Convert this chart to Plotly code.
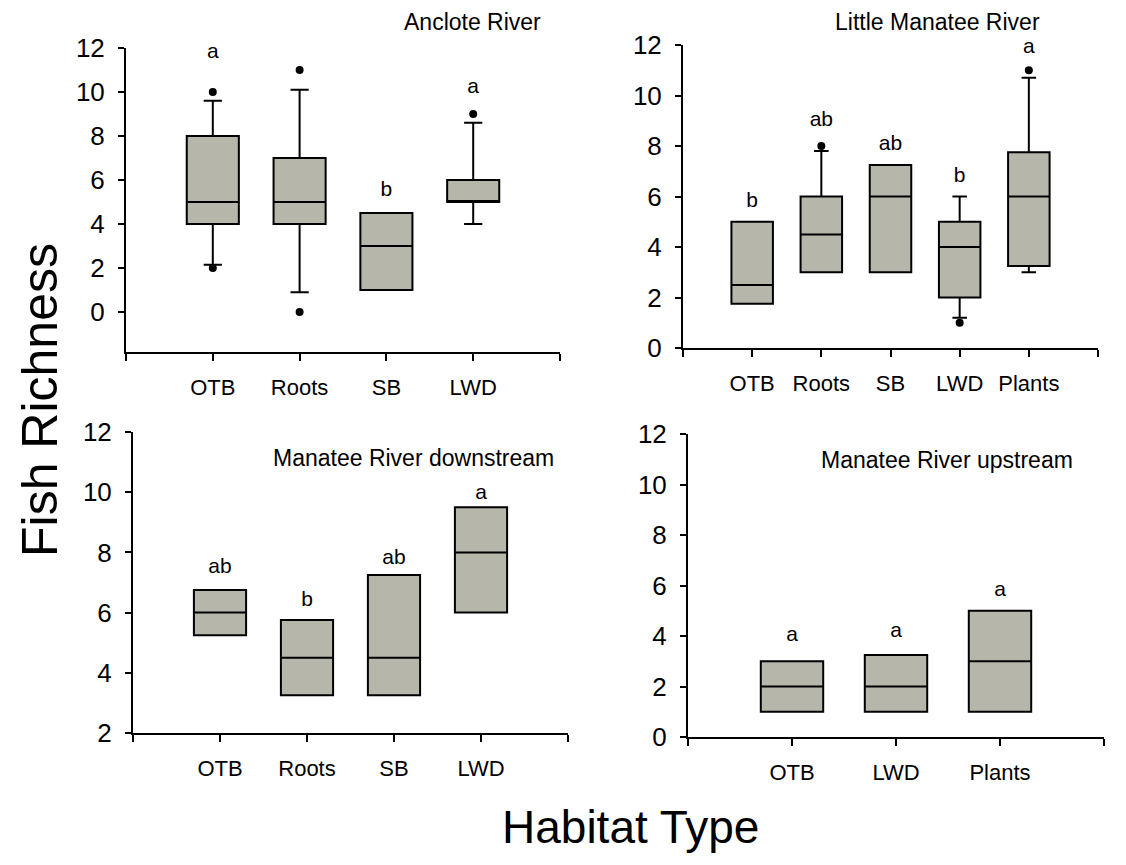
import plotly.graph_objects as go

# ---------------- data ----------------
anclote_cats = ["OTB", "Roots", "SB", "LWD"]
anclote_q1 = [4, 4, 1, 5]
anclote_med = [5, 5, 3, 5]
anclote_q3 = [8, 7, 4.5, 6]
anclote_lo = [2.15, 0.9, 1, 4]
anclote_hi = [9.6, 10.1, 4.5, 8.6]
anclote_out_cat = ["OTB", "OTB", "Roots", "Roots", "LWD"]
anclote_out_val = [10, 2, 11, 0, 9]
anclote_letters = ["a", "a", "b", "a"]
anclote_letter_y = [11.8, 12.1, 5.5, 10.2]

little_cats = ["OTB", "Roots", "SB", "LWD", "Plants"]
little_q1 = [1.75, 3, 3, 2, 3.25]
little_med = [2.5, 4.5, 6, 4, 6]
little_q3 = [5, 6, 7.25, 5, 7.75]
little_lo = [1.75, 3, 3, 1.2, 3]
little_hi = [5, 7.8, 7.25, 6, 10.7]
little_out_cat = ["Roots", "LWD", "Plants"]
little_out_val = [8, 1, 11]
little_letters = ["b", "ab", "ab", "b", "a"]
little_letter_y = [5.8, 9.0, 8.05, 6.8, 11.9]

down_cats = ["OTB", "Roots", "SB", "LWD"]
down_q1 = [5.25, 3.25, 3.25, 6]
down_med = [6, 4.5, 4.5, 8]
down_q3 = [6.75, 5.75, 7.25, 9.5]
down_lo = [5.25, 3.25, 3.25, 6]
down_hi = [6.75, 5.75, 7.25, 9.5]
down_out_cat = []
down_out_val = []
down_letters = ["ab", "b", "ab", "a"]
down_letter_y = [7.5, 6.4, 7.8, 9.95]

up_cats = ["OTB", "LWD", "Plants"]
up_q1 = [1, 1, 1]
up_med = [2, 2, 3]
up_q3 = [3, 3.25, 5]
up_lo = [1, 1, 1]
up_hi = [3, 3.25, 5]
up_out_cat = []
up_out_val = []
up_letters = ["a", "a", "a"]
up_letter_y = [4.0, 4.15, 5.8]

y_ticks_a = [0, 2, 4, 6, 8, 10, 12]
y_ticks_c = [2, 4, 6, 8, 10, 12]

titles = ["Anclote River", "Little Manatee River",
          "Manatee River downstream", "Manatee River upstream"]

# ---------------- layout helpers ----------------
PAGE_MARGIN = 8          # default body margin of the html page
W, H = 1126 - 2 * PAGE_MARGIN, 865 - 2 * PAGE_MARGIN
FONT = "Liberation Sans, Arial, sans-serif"
BOX_FILL = "#b6b6aa"


def px_x(x):
    return (x - PAGE_MARGIN) / W


def px_y(y):
    return 1 - (y - PAGE_MARGIN) / H


panels = [
    dict(cats=anclote_cats, q1=anclote_q1, med=anclote_med, q3=anclote_q3,
         lo=anclote_lo, hi=anclote_hi, oc=anclote_out_cat, ov=anclote_out_val,
         let=anclote_letters, ly=anclote_letter_y,
         xdom=(126, 560), ydom=(352, 48), yrange=(-1.82, 12), yticks=y_ticks_a,
         title=titles[0], tpos=(472, 22)),
    dict(cats=little_cats, q1=little_q1, med=little_med, q3=little_q3,
         lo=little_lo, hi=little_hi, oc=little_out_cat, ov=little_out_val,
         let=little_letters, ly=little_letter_y,
         xdom=(683, 1098), ydom=(348, 45), yrange=(0, 12), yticks=y_ticks_a,
         title=titles[1], tpos=(937, 22)),
    dict(cats=down_cats, q1=down_q1, med=down_med, q3=down_q3,
         lo=down_lo, hi=down_hi, oc=down_out_cat, ov=down_out_val,
         let=down_letters, ly=down_letter_y,
         xdom=(133, 568), ydom=(733, 432), yrange=(2, 12), yticks=y_ticks_c,
         title=titles[2], tpos=(413, 458)),
    dict(cats=up_cats, q1=up_q1, med=up_med, q3=up_q3,
         lo=up_lo, hi=up_hi, oc=up_out_cat, ov=up_out_val,
         let=up_letters, ly=up_letter_y,
         xdom=(688, 1104), ydom=(737, 434), yrange=(0, 12), yticks=y_ticks_a,
         title=titles[3], tpos=(947, 460)),
]

fig = go.Figure()
annotations = []
layout_axes = {}

for i, p in enumerate(panels, start=1):
    xa = "x" if i == 1 else f"x{i}"
    ya = "y" if i == 1 else f"y{i}"
    n = len(p["cats"])
    pos = [k + 1 for k in range(n)]
    fig.add_trace(go.Box(
        x=pos, q1=p["q1"], median=p["med"], q3=p["q3"],
        lowerfence=p["lo"], upperfence=p["hi"],
        width=0.6, whiskerwidth=0.35, boxpoints=False,
        fillcolor=BOX_FILL, line=dict(color="black", width=2),
        xaxis=xa, yaxis=ya, showlegend=False, hoverinfo="skip",
    ))
    if p["oc"]:
        fig.add_trace(go.Scatter(
            x=[p["cats"].index(c) + 1 for c in p["oc"]], y=p["ov"],
            mode="markers", marker=dict(color="black", size=8),
            cliponaxis=False,
            xaxis=xa, yaxis=ya, showlegend=False, hoverinfo="skip",
        ))
    fig.add_trace(go.Scatter(
        x=pos, y=p["ly"], text=p["let"], mode="text",
        textposition="middle center", cliponaxis=False,
        textfont=dict(family=FONT, size=21, color="black"),
        xaxis=xa, yaxis=ya, showlegend=False, hoverinfo="skip",
    ))
    xkey = "xaxis" if i == 1 else f"xaxis{i}"
    ykey = "yaxis" if i == 1 else f"yaxis{i}"
    layout_axes[xkey] = dict(
        domain=[px_x(p["xdom"][0]), px_x(p["xdom"][1])],
        anchor=ya, range=[0, n + 1], automargin=False,
        tickvals=list(range(n + 2)), ticktext=[""] + p["cats"] + [""],
        ticks="outside", ticklen=7, tickwidth=2, tickcolor="black",
        showline=True, linewidth=2, linecolor="black",
        showgrid=False, zeroline=False, ticklabelstandoff=8,
        tickfont=dict(family=FONT, size=22, color="black"),
    )
    layout_axes[ykey] = dict(
        domain=[px_y(p["ydom"][0]), px_y(p["ydom"][1])],
        anchor=xa, range=list(p["yrange"]), tickvals=p["yticks"],
        automargin=False, ticklabelstandoff=8,
        ticks="outside", ticklen=6, tickwidth=2, tickcolor="black",
        showline=True, linewidth=2, linecolor="black",
        showgrid=False, zeroline=False,
        tickfont=dict(family=FONT, size=26, color="black"),
    )
    annotations.append(dict(
        text=p["title"], x=px_x(p["tpos"][0]), y=px_y(p["tpos"][1]),
        xref="paper", yref="paper", xanchor="center", yanchor="middle",
        showarrow=False, font=dict(family=FONT, size=23, color="black"),
    ))

annotations.append(dict(
    text="Fish Richness", x=px_x(40), y=px_y(400), xref="paper", yref="paper",
    xanchor="center", yanchor="middle", textangle=-90, showarrow=False,
    font=dict(family=FONT, size=50, color="black"),
))
annotations.append(dict(
    text="Habitat Type", x=px_x(630), y=px_y(827), xref="paper", yref="paper",
    xanchor="center", yanchor="middle", showarrow=False,
    font=dict(family=FONT, size=46, color="black"),
))

fig.update_layout(
    width=W, height=H, margin=dict(l=0, r=0, t=0, b=0),
    paper_bgcolor="white", plot_bgcolor="white",
    annotations=annotations, **layout_axes,
)

fig.write_html("out.html")
